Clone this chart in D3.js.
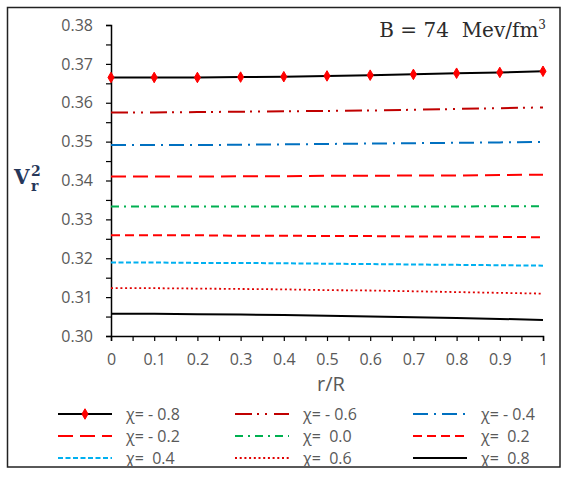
<!DOCTYPE html>
<html>
<head>
<meta charset="utf-8">
<script src="https://cdn.jsdelivr.net/npm/d3@7"></script>
<style>
  body { margin: 0; background: #fff; }
</style>
</head>
<body>
<div id="chart"></div>
<script>
// Data

const rR = [0, 0.1, 0.2, 0.3, 0.4, 0.5, 0.6, 0.7, 0.8, 0.9, 1];

const chiM08 = [0.3665, 0.3665, 0.3665, 0.3666, 0.3667, 0.3669, 0.3671, 0.3673, 0.3676, 0.3678, 0.3681];
const chiM06 = [0.3575, 0.3575, 0.3576, 0.3577, 0.3578, 0.3579, 0.3580, 0.3582, 0.3584, 0.3586, 0.3588];
const chiM04 = [0.3491, 0.3491, 0.3491, 0.3492, 0.3493, 0.3494, 0.3495, 0.3496, 0.3497, 0.3498, 0.3499];
const chiM02 = [0.3410, 0.3410, 0.3410, 0.3411, 0.3411, 0.3412, 0.3412, 0.3413, 0.3413, 0.3414, 0.3415];
const chiP00 = [0.3333, 0.3333, 0.3333, 0.3333, 0.3333, 0.3333, 0.3333, 0.3333, 0.3333, 0.3334, 0.3334];
const chiP02 = [0.3259, 0.3259, 0.3259, 0.3258, 0.3258, 0.3257, 0.3257, 0.3256, 0.3256, 0.3255, 0.3254];
const chiP04 = [0.3189, 0.3189, 0.3188, 0.3188, 0.3187, 0.3186, 0.3185, 0.3184, 0.3183, 0.3182, 0.3181];
const chiP06 = [0.3123, 0.3123, 0.3122, 0.3121, 0.3120, 0.3118, 0.3117, 0.3115, 0.3113, 0.3111, 0.3109];
const chiP08 = [0.3057, 0.3057, 0.3056, 0.3055, 0.3054, 0.3052, 0.3050, 0.3048, 0.3046, 0.3044, 0.3041];

const legendLabels = ['χ= - 0.8', 'χ= - 0.6', 'χ= - 0.4', 'χ= - 0.2', 'χ=  0.0', 'χ=  0.2', 'χ=  0.4', 'χ=  0.6', 'χ=  0.8'];

const xTicks = [0, 0.1, 0.2, 0.3, 0.4, 0.5, 0.6, 0.7, 0.8, 0.9, 1];
const yTicks = [0.30, 0.31, 0.32, 0.33, 0.34, 0.35, 0.36, 0.37, 0.38];

// styles for each series, same order as the legend
const series = [
  { values: chiM08, color: '#000', dash: null, width: 2, marker: true },
  { values: chiM06, color: '#c00000', dash: '17,5,2,6,2,7', width: 2 },
  { values: chiM04, color: '#0070c0', dash: '15,6,2,6', width: 2 },
  { values: chiM02, color: '#ff0000', dash: '15,7', width: 2 },
  { values: chiP00, color: '#00b050', dash: '8,5,2,5', width: 2 },
  { values: chiP02, color: '#ff0000', dash: '9,5', width: 2 },
  { values: chiP04, color: '#00b0f0', dash: '5,2.5', width: 2 },
  { values: chiP06, color: '#e00000', dash: '2,2.7', width: 1.8 },
  { values: chiP08, color: '#000', dash: null, width: 2 }
];
series.forEach((s, i) => s.label = legendLabels[i]);

const sans = "'Open Sans', 'Liberation Sans', sans-serif";
const serif = "'DejaVu Serif', serif";

// Chart setup
const width = 570;
const height = 480;
const svg = d3.select('#chart')
  .append('svg')
  .attr('width', width)
  .attr('height', height);

// outer frame
svg.append('rect')
  .attr('x', 7.5)
  .attr('y', 7.5)
  .attr('width', 552.5)
  .attr('height', 459.5)
  .attr('fill', 'none')
  .attr('stroke', '#222')
  .attr('stroke-width', 1.5);

const x = d3.scaleLinear().domain([0, 1]).range([111, 543]);
const y = d3.scaleLinear().domain([0.30, 0.38]).range([336, 25]);

// Axes
const xAxis = svg.append('g')
  .attr('transform', `translate(0,${y(0.30)})`)
  .call(d3.axisBottom(x)
    .tickValues(d3.range(0, 1.0001, 0.05))
    .tickSize(5)
    .tickFormat(d => xTicks.some(t => Math.abs(t - d) < 1e-9) ? d3.format('~g')(d) : ''));

xAxis.select('.domain').attr('stroke', '#000').attr('stroke-width', 1.5);
xAxis.selectAll('.tick line').attr('stroke', '#000').attr('stroke-width', 1.2);
xAxis.selectAll('.tick text')
  .attr('y', 18)
  .attr('font-size', 16)
  .attr('fill', '#595959')
  .attr('font-family', sans);

const yAxis = svg.append('g')
  .attr('transform', `translate(${x(0)},0)`)
  .call(d3.axisLeft(y)
    .tickValues(d3.range(0.30, 0.38001, 0.005))
    .tickSize(5)
    .tickFormat(d => yTicks.some(t => Math.abs(t - d) < 1e-9) ? d3.format('.2f')(d) : ''));

yAxis.select('.domain').attr('stroke', '#000').attr('stroke-width', 1.5);
yAxis.selectAll('.tick line').attr('stroke', '#000').attr('stroke-width', 1.2);
yAxis.selectAll('.tick text')
  .attr('x', -18)
  .attr('font-size', 16)
  .attr('fill', '#595959')
  .attr('font-family', sans);

// Lines
const line = d3.line()
  .x((d, i) => x(rR[i]))
  .y(d => y(d));

svg.append('g')
  .selectAll('path')
  .data(series)
  .enter().append('path')
  .attr('d', d => line(d.values))
  .attr('fill', 'none')
  .attr('stroke', d => d.color)
  .attr('stroke-width', d => d.width)
  .attr('stroke-dasharray', d => d.dash);

// markers on the first series
const diamond = d3.symbol().type(d3.symbolDiamond).size(32);
svg.append('g')
  .selectAll('path')
  .data(chiM08)
  .enter().append('path')
  .attr('d', diamond)
  .attr('transform', (d, i) => `translate(${x(rR[i])},${y(d)})`)
  .attr('fill', '#ff0000')
  .attr('stroke', '#ff0000')
  .attr('stroke-width', 1)
  .attr('stroke-linejoin', 'round');

// Labels
svg.append('text')
  .attr('x', 331)
  .attr('y', 391)
  .attr('text-anchor', 'middle')
  .attr('font-size', 20)
  .attr('font-family', sans)
  .attr('fill', '#595959')
  .text('r/R');

const yLabel = svg.append('g')
  .attr('font-family', serif)
  .attr('font-weight', 'bold')
  .attr('fill', '#26375a');
yLabel.append('text')
  .attr('x', 14)
  .attr('y', 184)
  .attr('font-size', 20)
  .text('V');
yLabel.append('text')
  .attr('x', 31)
  .attr('y', 176)
  .attr('font-size', 14)
  .text('2');
yLabel.append('text')
  .attr('x', 31)
  .attr('y', 191)
  .attr('font-size', 14)
  .text('r');

const title = svg.append('text')
  .attr('x', 546)
  .attr('y', 37)
  .attr('text-anchor', 'end')
  .attr('font-size', 20)
  .attr('font-family', serif)
  .attr('fill', '#2b2b2b')
  .style('white-space', 'pre');
title.append('tspan').text('B = 74  Mev/fm');
title.append('tspan').attr('font-size', 12).attr('dy', -8).text('3');

// Legend
const legendCols = [58, 235, 413];
const legendRows = [414, 436, 458];

const legend = svg.append('g')
  .selectAll('g')
  .data(series)
  .enter().append('g')
  .attr('transform', (d, i) => `translate(${legendCols[i % 3]},${legendRows[Math.floor(i / 3)]})`);

legend.append('line')
  .attr('x1', 0)
  .attr('x2', 54)
  .attr('stroke', d => d.color)
  .attr('stroke-width', d => d.width)
  .attr('stroke-dasharray', d => d.dash);

legend.filter(d => d.marker)
  .append('path')
  .attr('d', diamond)
  .attr('transform', 'translate(27,0)')
  .attr('fill', '#ff0000')
  .attr('stroke', '#ff0000')
  .attr('stroke-width', 1)
  .attr('stroke-linejoin', 'round');

legend.append('text')
  .attr('x', 68)
  .attr('dy', '0.35em')
  .attr('font-size', 16)
  .attr('font-family', sans)
  .attr('fill', '#595959')
  .style('white-space', 'pre')
  .text(d => d.label);
</script>
</body>
</html>
